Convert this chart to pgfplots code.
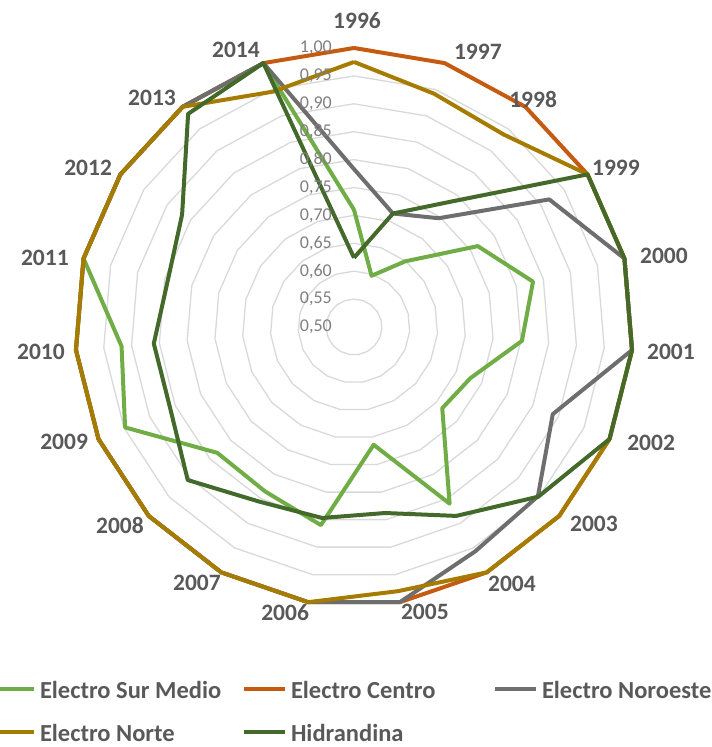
\documentclass[border=0pt]{standalone}
\usepackage{pgfplots}
\pgfplotsset{compat=1.18}
\usepackage{pgfplotstable}
\usepackage{fontspec}
\setmainfont{Carlito}
\definecolor{csur}{HTML}{70AD47}
\definecolor{ccentro}{HTML}{C55A11}
\definecolor{cnoro}{HTML}{6E6E6E}
\definecolor{cnorte}{HTML}{A57C00}
\definecolor{chidr}{HTML}{43692B}
\definecolor{gridc}{HTML}{D9D9D9}
\definecolor{labgray}{HTML}{595959}
\definecolor{tickgray}{HTML}{7F7F7F}

% k = category index (0 = 1996 ... 18 = 2014), row 19 closes the loop
\pgfplotstableread{
k  sur    centro noro   norte  hidr
0  0.710  1.00   0.783  0.975  0.624
1  0.597  1.00   0.715  0.942  0.715
2  0.649  1.00   0.747  0.937  0.785
3  0.765  1.00   0.918  1.00   1.00
4  0.831  1.00   1.00   1.00   1.00
5  0.802  1.00   1.00   1.00   1.00
6  0.728  1.00   0.889  1.00   1.00
7  0.715  1.00   0.948  1.00   0.949
8  0.860  1.00   0.957  1.00   0.885
9  0.714  1.00   1.00   0.980  0.838
10 0.860  1.00   1.00   1.00   0.847
11 0.835  1.00   1.00   1.00   0.856
12 0.833  1.00   1.00   1.00   0.905
13 0.948  1.00   1.00   1.00   0.860
14 0.918  1.00   1.00   1.00   0.860
15 1.00   1.00   1.00   1.00   0.844
16 1.00   1.00   1.00   1.00   0.868
17 1.00   1.00   1.00   1.00   0.984
18 1.00   1.00   1.00   0.946  1.00
19 0.710  1.00   0.783  0.975  0.624
}\radar

\newcommand{\lentry}[1]{\makebox[206bp][l]{\hspace{4bp}\strut #1}}

\begin{document}
\begin{tikzpicture}
% polygonal grid rings (0.55 ... 1.00)
\begin{scope}[shift={(354bp,420bp)}]
\foreach \i in {1,...,10}{
  \draw[gridc, line width=1.3bp, line join=round] ({90}:{\i*27.9bp}) \foreach \k in {1,...,18}{ -- ({90-\k*360/19}:{\i*27.9bp})} -- cycle;
}
\end{scope}
\begin{axis}[
  at={(0,0)}, anchor=south west,
  width=712bp, height=747bp, scale only axis,
  xmin=-1.2688, xmax=1.2832, ymin=-1.5054, ymax=1.1720,
  hide axis, clip=false,
  legend columns=3,
  legend cell align=left,
  legend image code/.code={
    \path (-2bp,0bp) -- (39bp,0bp);
    \draw[#1, line cap=round] (0bp,0bp) -- (37bp,0bp);
  },
  legend style={
    at={(axis cs:-1.301,-1.258)}, anchor=north west,
    draw=none, fill=none, inner sep=0pt, outer sep=0pt,
    column sep=0pt, row sep=21bp,
    nodes={inner sep=0pt},
    font=\bfseries\fontsize{24.5bp}{29bp}\selectfont, text=labgray,
  },
]
\addplot[csur, line width=4bp, line join=round] table[
  x expr={(\thisrow{sur}-0.5)*2*cos(90-\thisrow{k}*360/19)},
  y expr={(\thisrow{sur}-0.5)*2*sin(90-\thisrow{k}*360/19)}] {\radar};
\addlegendentry{\lentry{Electro Sur Medio}}
\addplot[ccentro, line width=4bp, line join=round] table[
  x expr={(\thisrow{centro}-0.5)*2*cos(90-\thisrow{k}*360/19)},
  y expr={(\thisrow{centro}-0.5)*2*sin(90-\thisrow{k}*360/19)}] {\radar};
\addlegendentry{\lentry{Electro Centro}}
\addplot[cnoro, line width=4bp, line join=round] table[
  x expr={(\thisrow{noro}-0.5)*2*cos(90-\thisrow{k}*360/19)},
  y expr={(\thisrow{noro}-0.5)*2*sin(90-\thisrow{k}*360/19)}] {\radar};
\addlegendentry{\lentry{Electro Noroeste}}
\addplot[cnorte, line width=4bp, line join=round] table[
  x expr={(\thisrow{norte}-0.5)*2*cos(90-\thisrow{k}*360/19)},
  y expr={(\thisrow{norte}-0.5)*2*sin(90-\thisrow{k}*360/19)}] {\radar};
\addlegendentry{\lentry{Electro Norte}}
\addplot[chidr, line width=4bp, line join=round] table[
  x expr={(\thisrow{hidr}-0.5)*2*cos(90-\thisrow{k}*360/19)},
  y expr={(\thisrow{hidr}-0.5)*2*sin(90-\thisrow{k}*360/19)}] {\radar};
\addlegendentry{\lentry{Hidrandina}}

% radial tick labels
\begin{scope}[every node/.style={anchor=east, inner sep=0pt, text=tickgray, font=\fontsize{18bp}{21bp}\selectfont}]
\node at (axis cs:-0.079,1.0) {1,00};
\node at (axis cs:-0.079,0.9) {0,95};
\node at (axis cs:-0.079,0.8) {0,90};
\node at (axis cs:-0.079,0.7) {0,85};
\node at (axis cs:-0.079,0.6) {0,80};
\node at (axis cs:-0.079,0.5) {0,75};
\node at (axis cs:-0.079,0.4) {0,70};
\node at (axis cs:-0.079,0.3) {0,65};
\node at (axis cs:-0.079,0.2) {0,60};
\node at (axis cs:-0.079,0.1) {0,55};
\node at (axis cs:-0.079,0.0) {0,50};
\end{scope}

% category labels
\begin{scope}[every node/.style={inner sep=0pt, text=labgray, font=\bfseries\fontsize{23.5bp}{26bp}\selectfont}]
\node at (axis cs:0.011,1.100) {1996};
\node at (axis cs:0.444,0.986) {1997};
\node at (axis cs:0.642,0.817) {1998};
\node at (axis cs:0.939,0.570) {1999};
\node at (axis cs:1.111,0.254) {2000};
\node at (axis cs:1.136,-0.090) {2001};
\node at (axis cs:1.065,-0.416) {2002};
\node at (axis cs:0.860,-0.706) {2003};
\node at (axis cs:0.566,-0.921) {2004};
\node at (axis cs:0.254,-1.022) {2005};
\node at (axis cs:-0.247,-1.022) {2006};
\node at (axis cs:-0.563,-0.918) {2007};
\node at (axis cs:-0.839,-0.710) {2008};
\node at (axis cs:-1.039,-0.412) {2009};
\node at (axis cs:-1.122,-0.090) {2010};
\node at (axis cs:-1.108,0.247) {2011};
\node at (axis cs:-0.953,0.570) {2012};
\node at (axis cs:-0.724,0.821) {2013};
\node at (axis cs:-0.423,0.993) {2014};
\end{scope}
\end{axis}
\pgfresetboundingbox
\useasboundingbox (0,0) rectangle (712bp,747bp);
\end{tikzpicture}
\end{document}
